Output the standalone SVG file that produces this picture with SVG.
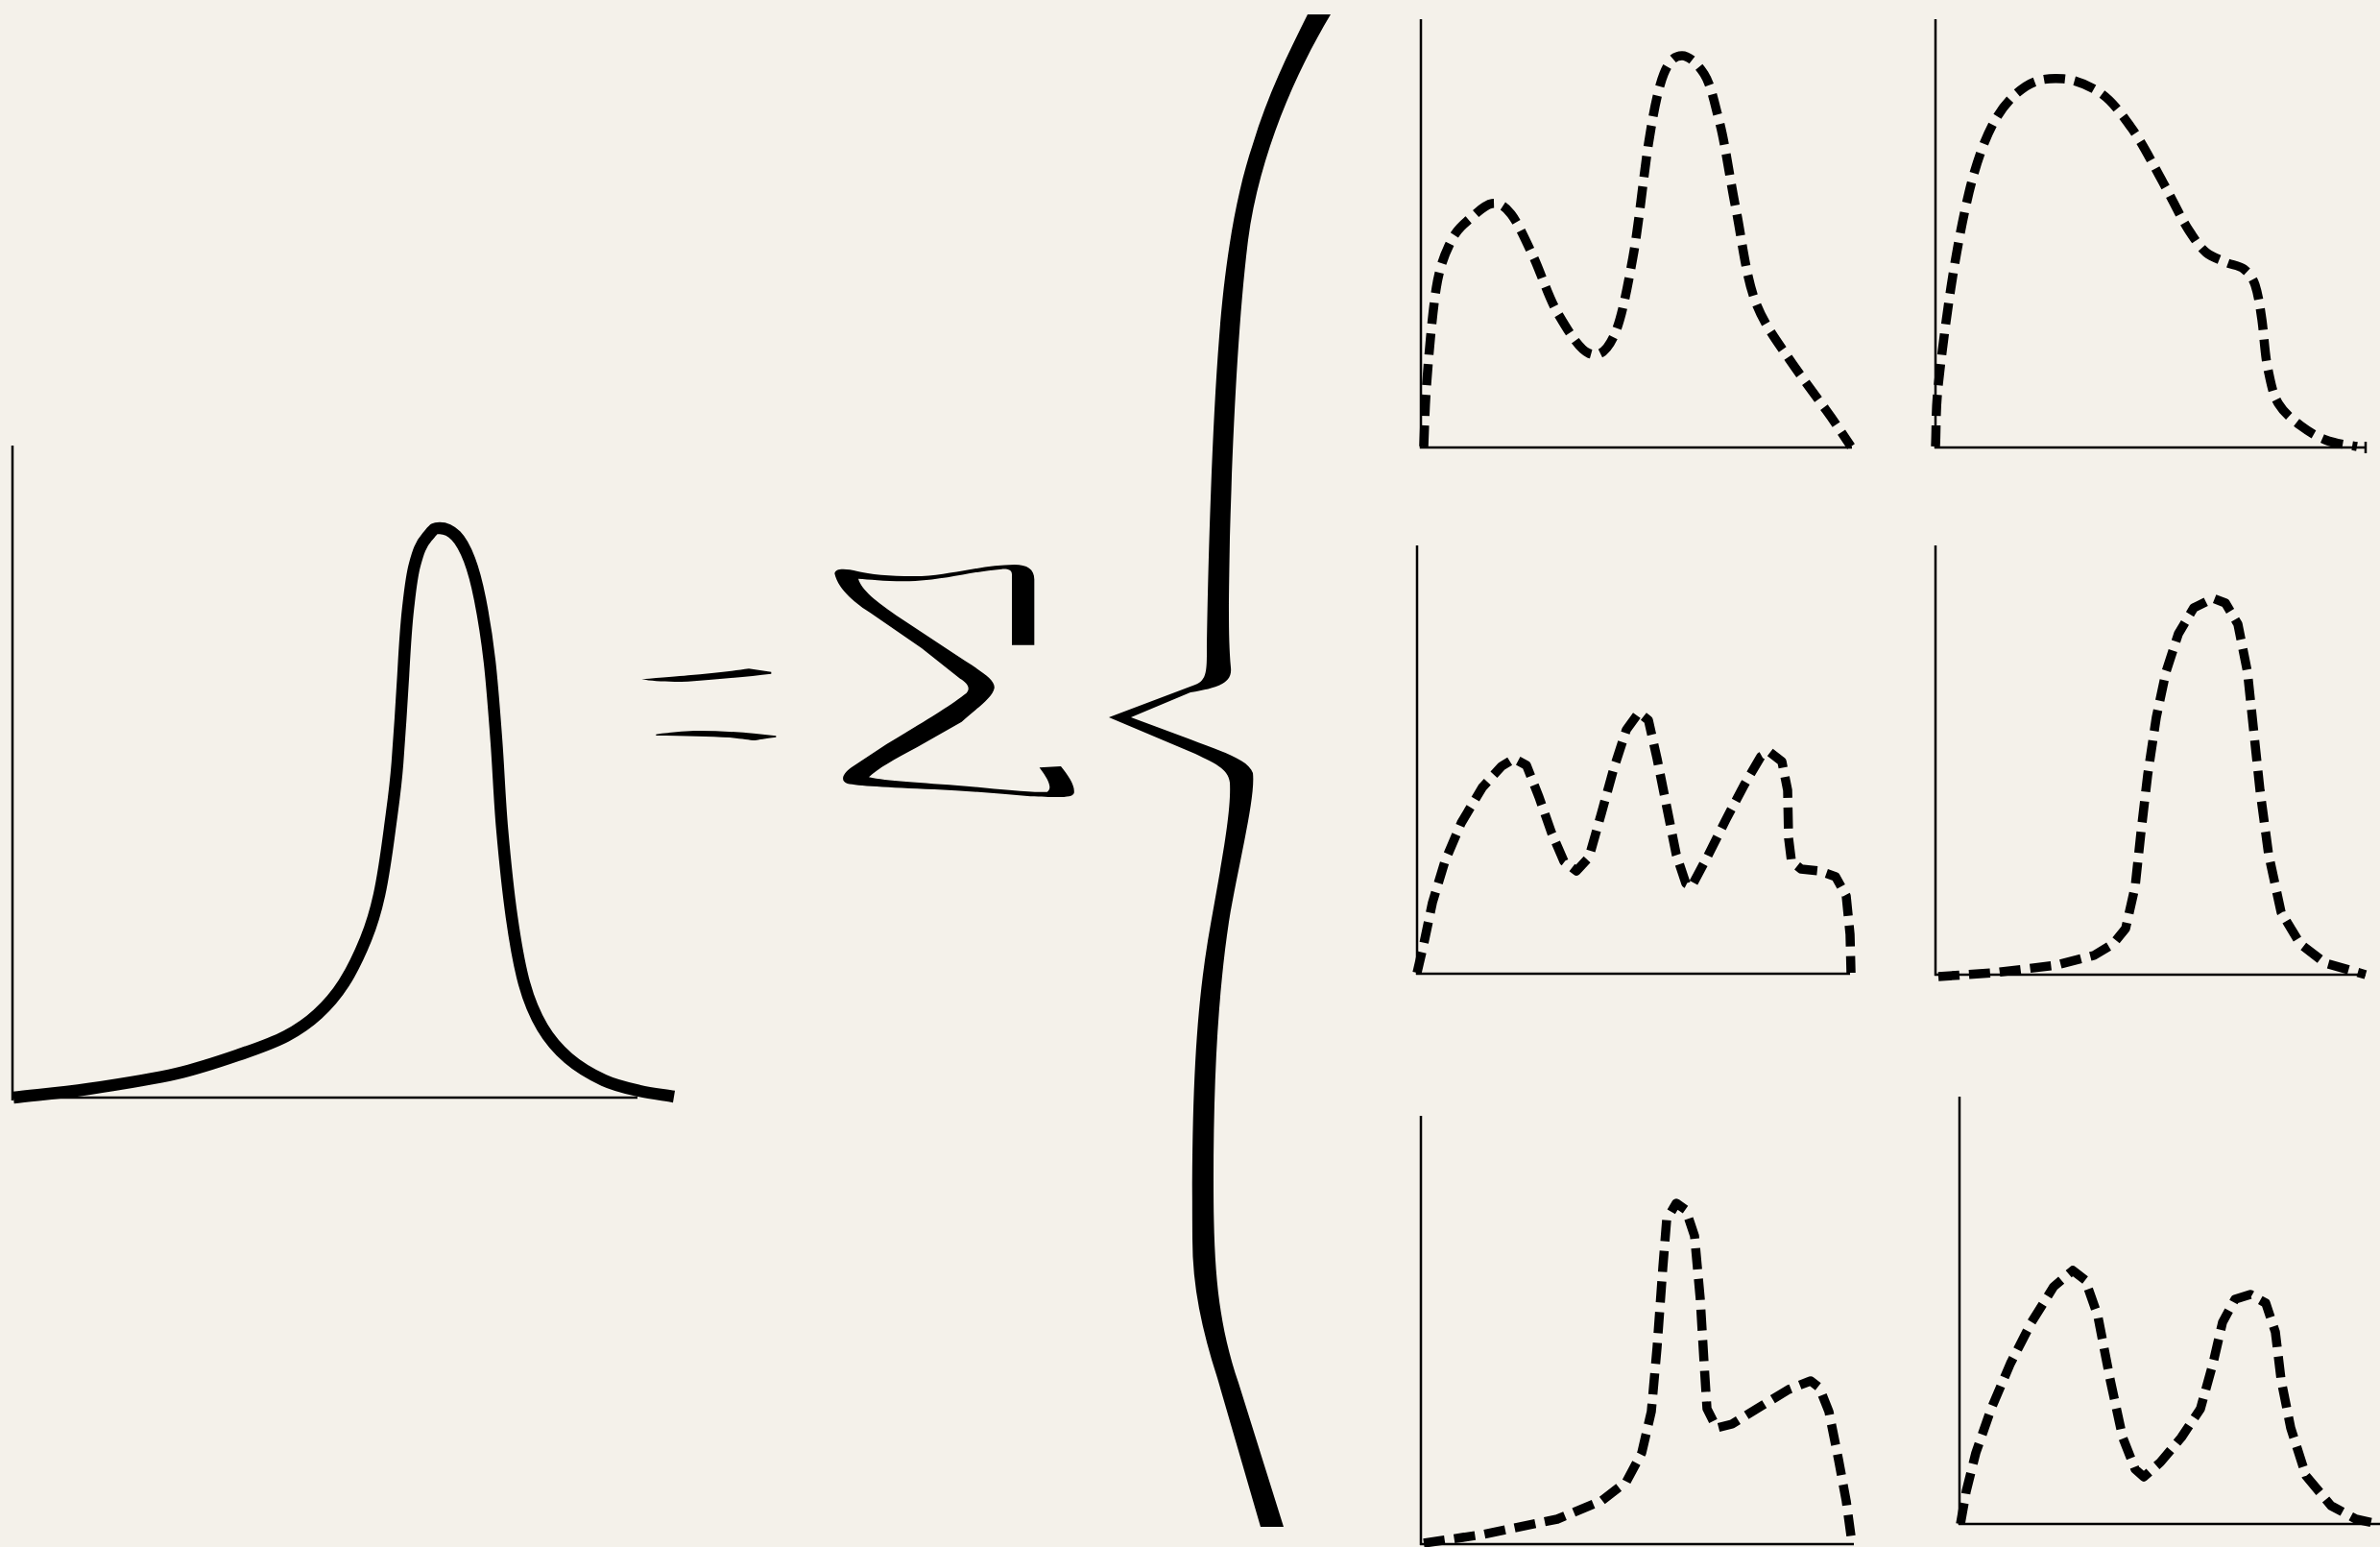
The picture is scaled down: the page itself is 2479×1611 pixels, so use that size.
<svg xmlns="http://www.w3.org/2000/svg" width="2479" height="1611" viewBox="0 0 2479 1611">
<style>
.axis{stroke:#000;stroke-width:2.5;fill:none}
.solid{stroke:#000;stroke-width:12.5;fill:none;stroke-linejoin:round;stroke-linecap:butt}
.dash{stroke:#000;stroke-width:9.5;fill:none;stroke-dasharray:22 10;stroke-linejoin:round}
.ink{fill:#000;stroke:none}
</style>
<rect width="2479" height="1611" fill="#f4f1ea"/>
<g id="main-plot">
<path class="axis" d="M13,464 L13,1146 M12,1143 L664,1143"/>
<path class="solid" d="M14,1143 C40,1140 63.7,1138.2 92,1134 S157.2,1124.2 184,1118 S234,1103.5 253,1097 S285,1085.8 298,1079 S321,1065.2 331,1056 S349.7,1037 358,1024 S374.8,993.3 381,978 S390.8,951.2 395,932 S403,886 406,863 S412,821 414,794 S418.5,730 420,703 S422.5,656 425,634 S428.5,601 432,588 S438,567 445,559 S451.5,550 458,550 S469.8,552.7 475,558 S484.8,572 489,583 S496.5,606.3 500,624 S507.2,664.5 510,689 S514.8,742 517,771 S520.3,832.3 523,863 S529.2,928.2 533,955 S540.7,1004.8 546,1024 S557.3,1057 565,1070 S581.3,1092.8 592,1102 S616.7,1119.3 629,1125 S653.8,1133.2 666,1136 S690,1140 702,1142"/>
</g>
<g id="equals" transform="translate(640,560) scale(0.33333)">
<path class="ink" d="M85,442 C150,437 200,433 230,430 C300,424 370,416 420,409 L490,419 L490,425 C420,433 330,442 230,449 C170,451 120,449 85,442 Z"/>
<path class="ink" d="M130,614 C180,607 230,603 260,603 C340,603 420,609 505,619 L505,623 C470,627 450,631 440,633 C420,632 400,628 360,624 C300,621 220,619 130,618 Z"/>
</g>
<g id="sigma" transform="translate(640,560) scale(0.33333)">
<path class="ink" d="M688,112 C690,95 720,95 760,105 C800,115 880,122 960,120 C1060,115 1150,85 1250,84 C1290,84 1312,98 1312,130 L1312,335 L1242,335 L1242,115 C1242,100 1230,97 1210,98 C1120,105 1040,130 940,135 C860,138 800,130 762,128 C772,162 815,198 895,252 L1055,358 C1130,408 1192,440 1187,470 C1182,500 1125,538 1085,575 L945,655 C875,692 825,720 795,748 C850,760 950,765 1100,776 C1200,785 1300,797 1352,794 C1368,785 1360,760 1328,718 L1395,714 C1420,745 1440,775 1436,798 C1430,812 1400,812 1300,808 C1200,800 1100,790 1000,786 C850,780 760,775 728,768 C705,760 712,738 740,718 L850,645 C950,585 1050,525 1100,485 C1115,468 1100,452 1080,440 L960,345 L800,235 C760,210 700,165 688,112 Z"/>
</g>
<g id="brace">
<path class="ink" d="M1362,15 L1386,15 C1350,75 1312,160 1300,250 C1290,330 1284,450 1281,560 C1280,620 1279,660 1282,695 C1284,712 1268,716 1240,721 L1178,747 L1240,770 C1270,782 1300,790 1305,805 C1308,830 1290,900 1280,960 C1268,1040 1264,1130 1264,1230 C1264,1320 1268,1375 1290,1440 L1337,1590 L1313,1590 L1268,1435 C1252,1385 1242,1340 1242,1290 C1241,1150 1245,1060 1258,980 C1268,920 1283,850 1281,815 C1279,800 1265,795 1245,785 L1155,747 L1245,713 C1256,709 1257,700 1257,680 C1258,600 1262,450 1270,350 C1276,270 1288,200 1305,150 C1320,100 1342,55 1362,15 Z"/>
</g>
<g id="plot-a">
<path class="axis" d="M1480,20 L1480,467 M1479,466 L1929,466"/>
<path class="dash" d="M1483,465 C1484,443 1484,428 1486,400 S1492,325 1496,300 S1506,262 1512,250 S1525,233 1532,227 S1547,213 1554,212 S1567,214 1574,223 S1589,250 1597,267 S1613,310 1623,327 S1645,364 1655,368 S1673,367 1681,350 S1695,300 1701,267 S1712,182 1717,150 S1727,92 1733,77 S1745,58 1752,58 S1768,66 1775,77 S1785,104 1791,127 S1802,187 1808,217 S1818,284 1827,310 S1850,354 1863,373 S1891,412 1902,427 S1919,452 1928,465"/>
</g>
<g id="plot-b">
<path class="axis" d="M2016,20 L2016,467 M2015,466 L2464,466 M2464,460 L2464,472"/>
<path class="dash" d="M2016,465 C2017,443 2016,428 2019,400 S2027,333 2032,300 S2044,229 2051,200 S2067,145 2077,127 S2098,98 2110,90 S2136,81 2149,82 S2176,89 2188,97 S2209,118 2220,133 S2243,172 2253,190 S2272,228 2280,240 S2292,258 2298,263 S2312,270 2318,273 S2332,276 2337,280 S2346,288 2349,297 S2354,319 2356,333 S2359,369 2362,383 S2367,410 2373,420 S2388,437 2396,443 S2412,454 2422,458 S2444,463 2455,465"/>
</g>
<g id="plot-c">
<path class="axis" d="M1476,568 L1476,1015 M1475,1014 L1927,1014"/>
<path class="dash" d="M1476,1013 L1483,983 L1492,940 L1505,897 L1522,857 L1544,820 L1564,798 L1577,790 L1590,797 L1603,830 L1616,867 L1629,897 L1642,907 L1655,893 L1668,847 L1681,800 L1694,760 L1707,742 L1717,750 L1726,790 L1736,840 L1746,890 L1756,920 L1762,923 L1778,893 L1798,853 L1817,817 L1834,788 L1843,783 L1856,793 L1862,823 L1863,873 L1866,897 L1876,905 L1895,907 L1912,913 L1923,933 L1927,973 L1928,1013"/>
</g>
<g id="plot-d">
<path class="axis" d="M2016,568 L2016,1016 M2015,1015 L2464,1015"/>
<path class="dash" d="M2019,1017 L2077,1013 L2142,1005 L2181,995 L2201,983 L2214,967 L2224,923 L2230,867 L2237,807 L2246,747 L2256,700 L2269,660 L2285,633 L2305,623 L2318,628 L2331,650 L2341,700 L2347,757 L2354,823 L2363,890 L2376,950 L2396,983 L2422,1003 L2464,1015"/>
</g>
<g id="plot-e">
<path class="axis" d="M1480,1162 L1480,1609 M1479,1608 L1931,1608"/>
<path class="dash" d="M1483,1607 L1544,1598 L1622,1582 L1668,1563 L1694,1543 L1710,1513 L1720,1470 L1726,1403 L1732,1320 L1736,1270 L1746,1253 L1756,1260 L1765,1287 L1771,1353 L1775,1420 L1778,1467 L1788,1487 L1804,1483 L1830,1467 L1863,1447 L1886,1438 L1895,1445 L1905,1470 L1915,1520 L1923,1563 L1929,1607"/>
</g>
<g id="plot-f">
<path class="axis" d="M2041,1142 L2041,1588 M2040,1587 L2479,1587"/>
<path class="dash" d="M2042,1587 L2048,1553 L2058,1513 L2074,1467 L2094,1420 L2116,1377 L2139,1340 L2159,1323 L2172,1333 L2185,1370 L2198,1437 L2211,1497 L2224,1530 L2233,1538 L2250,1523 L2272,1497 L2292,1467 L2305,1420 L2315,1377 L2328,1353 L2344,1348 L2360,1357 L2370,1387 L2376,1437 L2386,1487 L2402,1537 L2428,1568 L2454,1582 L2477,1587"/>
</g>
</svg>
